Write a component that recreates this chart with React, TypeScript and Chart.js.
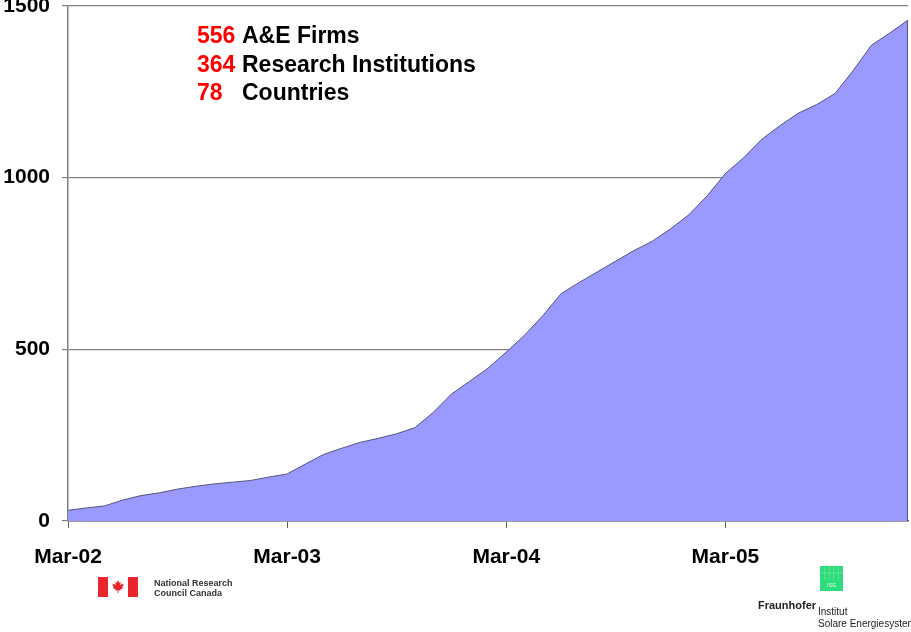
import React, { useEffect, useRef } from "react";
import { Chart, registerables } from "chart.js";

Chart.register(...registerables);

const months = [
  "Mar-02", "Apr-02", "May-02", "Jun-02", "Jul-02", "Aug-02", "Sep-02", "Oct-02", "Nov-02", "Dec-02",
  "Jan-03", "Feb-03", "Mar-03", "Apr-03", "May-03", "Jun-03", "Jul-03", "Aug-03", "Sep-03", "Oct-03", "Nov-03", "Dec-03",
  "Jan-04", "Feb-04", "Mar-04", "Apr-04", "May-04", "Jun-04", "Jul-04", "Aug-04", "Sep-04", "Oct-04", "Nov-04", "Dec-04",
  "Jan-05", "Feb-05", "Mar-05", "Apr-05", "May-05", "Jun-05", "Jul-05", "Aug-05", "Sep-05", "Oct-05", "Nov-05", "Dec-05",
  "Jan-06",
];

const participants = [
  31, 38, 44, 61, 74, 82, 93, 101, 108, 113,
  118, 128, 137, 166, 194, 212, 229, 241, 254, 272,
  316, 370, 407, 445, 492, 541, 598, 662, 695, 726,
  757, 788, 815, 851, 892, 947, 1012, 1058, 1112, 1152,
  1188, 1213, 1245, 1312, 1386, 1421, 1459,
];

const xTickLabels = ["Mar-02", "Mar-03", "Mar-04", "Mar-05"];
const yTicks = [0, 500, 1000, 1500];

const summaryNumbers = ["556", "364", "78"];
const summaryTexts = ["A&E Firms", "Research Institutions", "Countries"];

const FONT = '"Liberation Sans", Arial, Helvetica, sans-serif';

const overlayPlugin = {
  id: "overlay",
  afterDatasetsDraw(chart: any) {
    const ctx = chart.ctx;
    const meta = chart.getDatasetMeta(0);
    const last = meta.data[meta.data.length - 1];
    const yScale = chart.scales.y;
    ctx.save();
    ctx.strokeStyle = "#55557a";
    ctx.lineWidth = 1;
    ctx.beginPath();
    ctx.moveTo(last.x - 0.5, last.y);
    ctx.lineTo(last.x - 0.5, yScale.getPixelForValue(0));
    ctx.stroke();
    ctx.restore();
  },
  afterDraw(chart: any) {
    const ctx = chart.ctx;
    ctx.save();
    // summary text
    ctx.font = `bold 23px ${FONT}`;
    ctx.textBaseline = "alphabetic";
    ctx.textAlign = "left";
    const baselines = [42.5, 71.5, 100];
    summaryNumbers.forEach((n, i) => {
      ctx.fillStyle = "#ff0000";
      ctx.fillText(n, 197, baselines[i]);
      ctx.fillStyle = "#000000";
      ctx.fillText(summaryTexts[i], 242, baselines[i]);
    });

    // NRC flag
    ctx.fillStyle = "#e8262b";
    ctx.fillRect(98, 577, 10, 20);
    ctx.fillRect(128, 577, 10, 20);
    const leaf = [
      [0, -7], [1.3, -4.5], [2.8, -5.2], [2.2, -1.8], [4.6, -3.6], [5.6, -2], [4.2, 0], [5.2, 0.8],
      [2.2, 2.8], [2.6, 4], [0.4, 3.4], [0.4, 6.5], [-0.4, 6.5], [-0.4, 3.4], [-2.6, 4], [-2.2, 2.8],
      [-5.2, 0.8], [-4.2, 0], [-5.6, -2], [-4.6, -3.6], [-2.2, -1.8], [-2.8, -5.2], [-1.3, -4.5],
    ];
    ctx.beginPath();
    leaf.forEach(([lx, ly], i) => {
      const px = 118 + lx * 1.0;
      const py = 587 + ly * 0.95;
      if (i === 0) ctx.moveTo(px, py);
      else ctx.lineTo(px, py);
    });
    ctx.closePath();
    ctx.fill();
    ctx.fillStyle = "#333333";
    ctx.font = `bold 9px ${FONT}`;
    ctx.textBaseline = "middle";
    ctx.fillText("National Research", 154, 584);
    ctx.fillText("Council Canada", 154, 594);

    // Fraunhofer ISE
    ctx.fillStyle = "#2fdc7c";
    ctx.fillRect(820, 566, 23, 25);
    ctx.strokeStyle = "rgba(255,255,255,0.35)";
    ctx.lineWidth = 0.6;
    for (let k = 1; k < 5; k++) {
      ctx.beginPath();
      ctx.moveTo(820 + k * 4.6, 566);
      ctx.lineTo(820 + k * 4.6, 580);
      ctx.stroke();
    }
    ctx.beginPath();
    ctx.moveTo(820, 573);
    ctx.lineTo(843, 573);
    ctx.stroke();
    ctx.fillStyle = "rgba(255,255,255,0.8)";
    ctx.font = `6px ${FONT}`;
    ctx.textAlign = "center";
    ctx.fillText("ISE", 831.5, 585);
    ctx.textAlign = "left";
    ctx.fillStyle = "#222222";
    ctx.font = `bold 11px ${FONT}`;
    ctx.fillText("Fraunhofer", 758, 606);
    ctx.font = `10px ${FONT}`;
    ctx.fillText("Institut", 818, 612);
    ctx.fillText("Solare Energiesysten", 818, 624);
    ctx.restore();
  },
};

export default function App() {
  const canvasRef = useRef<HTMLCanvasElement | null>(null);

  useEffect(() => {
    if (!canvasRef.current) return;
    const chart = new Chart(canvasRef.current, {
      type: "line",
      data: {
        labels: months,
        datasets: [
          {
            data: participants,
            fill: "origin",
            backgroundColor: "#9999ff",
            borderColor: "#55557a",
            borderWidth: 1,
            pointRadius: 0,
            tension: 0,
          },
        ],
      },
      options: {
        animation: false,
        responsive: false,
        devicePixelRatio: 1,
        layout: { padding: { left: 0, right: 3, top: 6, bottom: 0 } },
        plugins: { legend: { display: false }, tooltip: { enabled: false } },
        scales: {
          x: {
            type: "category",
            offset: false,
            afterFit(scale: any) {
              scale.height = 111;
              scale.paddingLeft = 0;
              scale.paddingRight = 0;
            },
            border: { display: true, color: "#606060", width: 1.5 },
            grid: {
              drawOnChartArea: false,
              tickLength: 7,
              lineWidth: 1,
              color: (c: any) => {
                const lbl = months[c.index];
                return xTickLabels.includes(lbl) ? "#606060" : "rgba(0,0,0,0)";
              },
            },
            ticks: {
              autoSkip: false,
              maxRotation: 0,
              padding: 17,
              color: "#000000",
              font: { family: FONT, size: 21, weight: "bold" },
              callback: (v: any, i: number) => (xTickLabels.includes(months[i]) ? months[i] : ""),
            },
          },
          y: {
            min: 0,
            max: 1500,
            afterFit(scale: any) {
              scale.width = 68;
              scale.paddingTop = 0;
              scale.paddingBottom = 0;
            },
            afterBuildTicks(scale: any) {
              scale.ticks = yTicks.map((v) => ({ value: v }));
            },
            border: { display: true, color: "#808080", width: 1.5 },
            grid: {
              color: "#808080",
              lineWidth: 1.2,
              tickLength: 6,
            },
            ticks: {
              padding: 12,
              color: "#000000",
              font: { family: FONT, size: 21, weight: "bold" },
              callback: (v: any) => String(v),
            },
          },
        },
      },
      plugins: [overlayPlugin],
    } as any);
    return () => chart.destroy();
  }, []);

  return (
    <div style={{ position: "fixed", left: 0, top: 0, width: 911, height: 632, background: "#ffffff" }}>
      <canvas ref={canvasRef} width={911} height={632} style={{ display: "block", width: 911, height: 632 }} />
    </div>
  );
}
